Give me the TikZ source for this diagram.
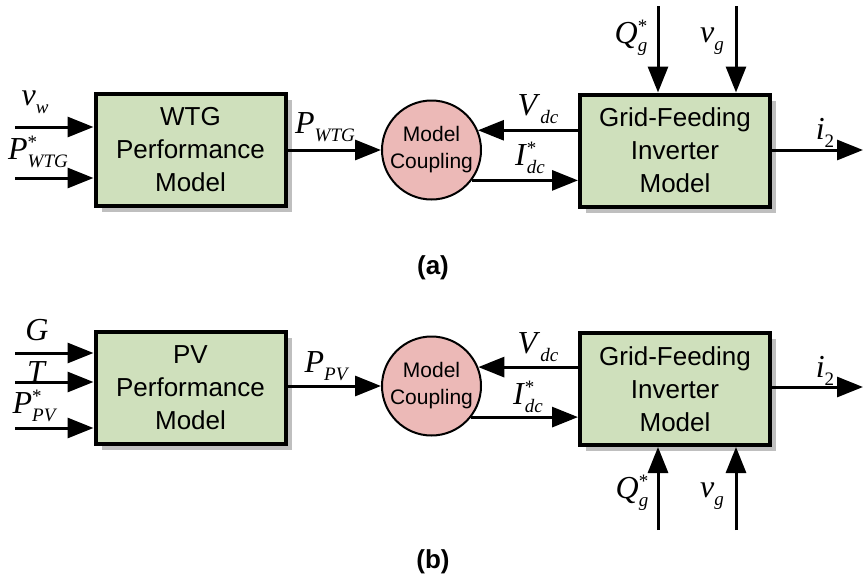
\documentclass[tikz,border=0pt]{standalone}
\usepackage{fontspec}
\setmainfont{Liberation Serif}
\setsansfont{Liberation Sans}
\usepackage{tikz}
\usetikzlibrary{calc}
\usetikzlibrary{arrows.meta}
\usetikzlibrary{shadows}

\definecolor{blkgreen}{RGB}{207,224,188}
\definecolor{cplpink}{RGB}{236,185,183}

\newcommand{\subfnt}{\fontsize{9.5}{10}\selectfont\itshape}
\newcommand{\sgsub}[2]{\textit{#1}\raisebox{-4pt}{\subfnt #2}}
\newcommand{\sig}[3]{\textit{#1}\rlap{\raisebox{5.5pt}{\subfnt\upshape #2}}\raisebox{-4pt}{\subfnt #3}}

\begin{document}
\begin{tikzpicture}[x=0.5pt,y=-0.5pt,
    blk/.style={draw,line width=2pt,fill=blkgreen,minimum width=95pt,minimum height=56pt,
        align=center,font=\sffamily\fontsize{13}{16.5}\selectfont,
        drop shadow={shadow xshift=3pt,shadow yshift=-3pt,fill=black!50,opacity=.5}},
    cpl/.style={circle,draw,line width=1pt,fill=cplpink,minimum size=49.5pt,inner sep=0pt,
        align=center,font=\sffamily\fontsize{10.5}{13.5}\selectfont},
    sg/.style={line width=1.5pt,-{Triangle[length=13pt,width=10pt]}},
    lab/.style={font=\fontsize{16}{18}\selectfont,inner sep=0pt},
    figcap/.style={font=\sffamily\bfseries\fontsize{13}{15}\selectfont}]
            \useasboundingbox (0,0) rectangle (863,584);

            % (a) wind turbine
            \node[blk] (wtg) at (190.5,149.5) {WTG\\Performance\\Model};
            \node[cpl] (cpla) at (431.5,150) {Model\\Coupling};
            \node[blk] (grida) at (675,150.5) {Grid-Feeding\\Inverter\\Model};

            \coordinate (vw) at (15,127);
            \coordinate (pwtg) at (15,178);
            \coordinate (ia) at (863,150);
            \coordinate (qa) at (658,6);
            \coordinate (vga) at (736,6);

            \draw[sg] (vw) -- (vw -| wtg.west);
            \draw[sg] (pwtg) -- (pwtg -| wtg.west);
            \draw[sg] (wtg.east |- cpla.west) -- (cpla.west);
            \draw[sg] (grida.west |- cpla.23) -- (cpla.23);
            \draw[sg] (cpla.-37) -- (grida.west |- cpla.-37);
            \draw[sg] (grida.east |- ia) -- (ia);
            \draw[sg] (qa) -- (qa |- grida.north);
            \draw[sg] (vga) -- (vga |- grida.north);

            \node[lab] (lvw) at (35,102) {\sgsub{v}{w}};
            \node[lab] (lpwtg) at (38,152) {\sig{P}{*}{WTG}};
            \node[lab] (lpa) at (325,127) {\sgsub{P}{WTG}};
            \node[lab] (lva) at (538,109) {\sgsub{V}{dc}};
            \node[lab] (lia) at (530,158) {\sig{I}{*}{dc}};
            \node[lab] (li2a) at (825,133) {\sgsub{i}{\upshape 2}};
            \node[lab] (lqa) at (631,38) {\sig{Q}{*}{g}};
            \node[lab] (lvga) at (712,41) {\sgsub{v}{g}};

            \node[figcap] (capa) at (433,268) {(a)};

            % (b) photovoltaic
            \node[blk] (pv) at (190.5,388) {PV\\Performance\\Model};
            \node[cpl] (cplb) at (431.5,386) {Model\\Coupling};
            \node[blk] (gridb) at (675,389) {Grid-Feeding\\Inverter\\Model};

            \coordinate (g) at (15,353);
            \coordinate (t) at (15,382);
            \coordinate (ppv) at (15,428);
            \coordinate (ib) at (863,387);
            \coordinate (qb) at (658,530);
            \coordinate (vgb) at (736,530);

            \draw[sg] (g) -- (g -| pv.west);
            \draw[sg] (t) -- (t -| pv.west);
            \draw[sg] (ppv) -- (ppv -| pv.west);
            \draw[sg] (pv.east |- cplb.west) -- (cplb.west);
            \draw[sg] (gridb.west |- cplb.22) -- (cplb.22);
            \draw[sg] (cplb.-38) -- (gridb.west |- cplb.-38);
            \draw[sg] (gridb.east |- ib) -- (ib);
            \draw[sg] (qb) -- (qb |- gridb.south);
            \draw[sg] (vgb) -- (vgb |- gridb.south);

            \node[lab] (lg) at (37,330) {\textit{G}};
            \node[lab] (lt) at (37,372) {\textit{T}};
            \node[lab] (lppv) at (34,406) {\sig{P}{*}{PV}};
            \node[lab] (lpb) at (326,366) {\sgsub{P}{PV}};
            \node[lab] (lvb) at (538,347) {\sgsub{V}{dc}};
            \node[lab] (lib) at (528,397) {\sig{I}{*}{dc}};
            \node[lab] (li2b) at (825,371) {\sgsub{i}{\upshape 2}};
            \node[lab] (lqb) at (632,493) {\sig{Q}{*}{g}};
            \node[lab] (lvgb) at (712,496) {\sgsub{v}{g}};

            \node[figcap] (capb) at (433,562) {(b)};

        \end{tikzpicture}
\end{document}
